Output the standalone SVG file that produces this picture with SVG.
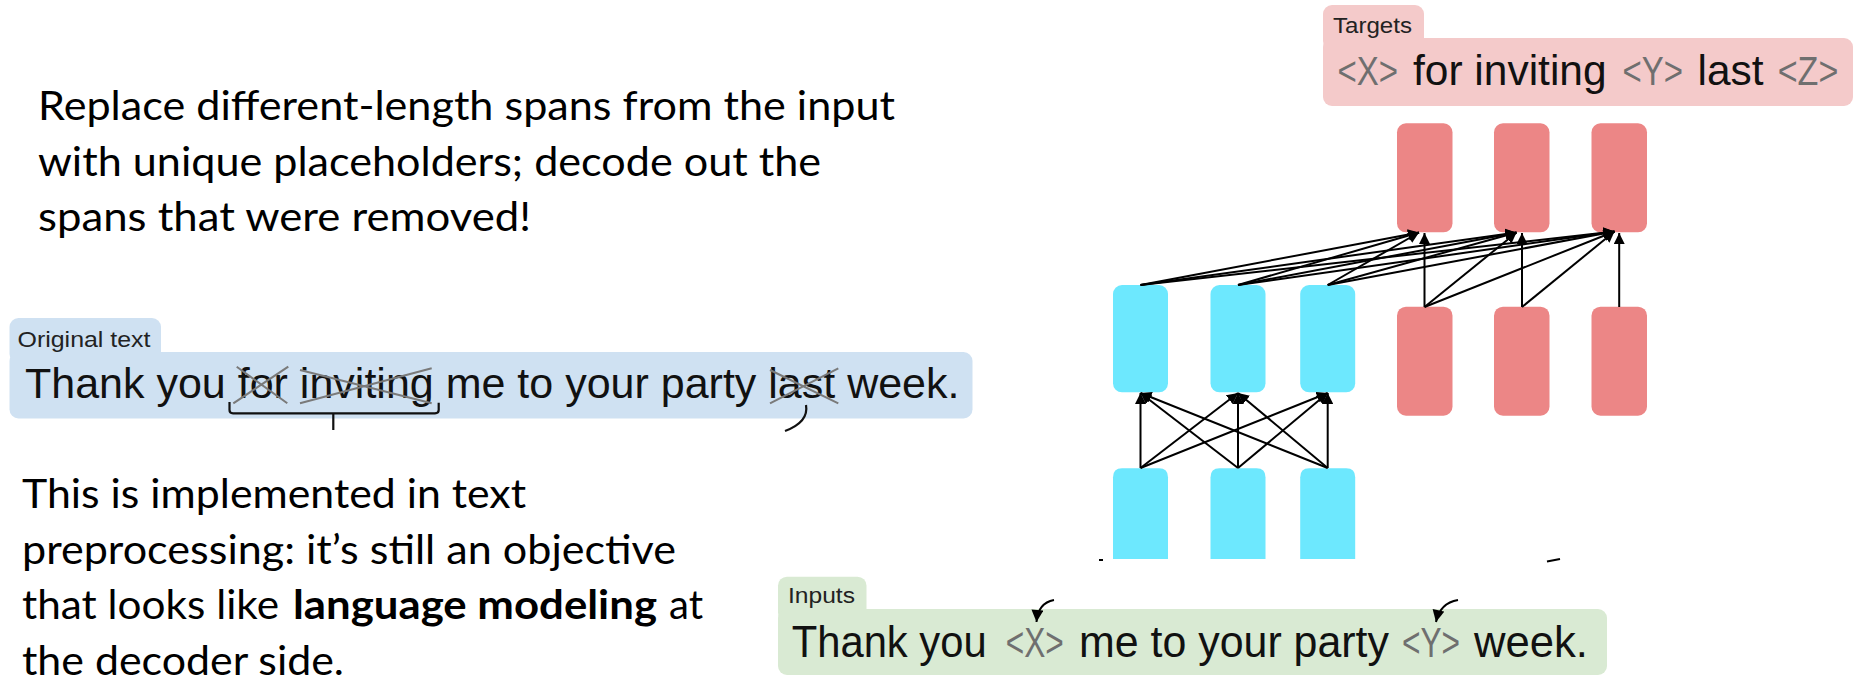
<svg xmlns="http://www.w3.org/2000/svg" width="1859" height="685" viewBox="0 0 1859 685">
<style>
.body{font-family:Lato,"Open Sans",sans-serif;font-size:40px;fill:#000}
.b{font-weight:bold}
.sent{font-family:"Liberation Sans",Arial,sans-serif;fill:#111}
.ph{font-family:"Liberation Sans",Arial,sans-serif;fill:#6f6f6f}
.tab{font-family:"Liberation Sans",Arial,sans-serif;font-size:22px;fill:#222}
.red{fill:#ec8686}
.cyan{fill:#6de8fe}
.conn line,.conn path{stroke:#000;stroke-width:2;fill:none}
.x{stroke:#7a7a7a;stroke-width:2;fill:none}
.brk{stroke:#111;stroke-width:2.2;fill:none}
</style>
<defs>
<marker id="ah" viewBox="0 0 10 10" refX="10" refY="5" markerWidth="11" markerHeight="11" markerUnits="userSpaceOnUse" orient="auto">
<path d="M0,0 L10,5 L0,10 z" fill="#000"/>
</marker>
<marker id="ah2" viewBox="0 0 10 10" refX="10" refY="5" markerWidth="13" markerHeight="12" markerUnits="userSpaceOnUse" orient="auto">
<path d="M0,0 L10,5 L0,10 z" fill="#000"/>
</marker>
</defs>
<rect width="1859" height="685" fill="#fff"/>

<g id="text-intro" class="body">
<text x="38" y="120" textLength="857" lengthAdjust="spacingAndGlyphs">Replace different-length spans from the input</text>
<text x="38" y="175.7" textLength="783" lengthAdjust="spacingAndGlyphs">with unique placeholders; decode out the</text>
<text x="38" y="231.4" textLength="493" lengthAdjust="spacingAndGlyphs">spans that were removed!</text>
</g>

<g id="text-note" class="body">
<text x="22" y="508" textLength="504" lengthAdjust="spacingAndGlyphs">This is implemented in text</text>
<text x="22" y="563.7" textLength="654" lengthAdjust="spacingAndGlyphs">preprocessing: it’s still an objective</text>
<text x="22" y="619.4" textLength="257" lengthAdjust="spacingAndGlyphs">that looks like</text>
<text class="b" x="293" y="619.4" textLength="364" lengthAdjust="spacingAndGlyphs">language modeling</text>
<text x="669" y="619.4" textLength="34" lengthAdjust="spacingAndGlyphs">at</text>
<text x="22" y="675" textLength="322" lengthAdjust="spacingAndGlyphs">the decoder side.</text>
</g>

<g id="targets">
<rect x="1323" y="5" width="101" height="45" rx="9" fill="#f4caca"/>
<rect x="1323" y="38" width="530" height="68" rx="9" fill="#f4caca"/>
<text class="tab" x="1333" y="33" textLength="79" lengthAdjust="spacingAndGlyphs">Targets</text>
<text class="ph" x="1337.4" y="85" font-size="40" textLength="60.6" lengthAdjust="spacingAndGlyphs">&lt;X&gt;</text>
<text class="sent" x="1413" y="85" font-size="42" textLength="193.6" lengthAdjust="spacingAndGlyphs">for inviting</text>
<text class="ph" x="1622.6" y="85" font-size="40" textLength="60.4" lengthAdjust="spacingAndGlyphs">&lt;Y&gt;</text>
<text class="sent" x="1697.5" y="85" font-size="42" textLength="66" lengthAdjust="spacingAndGlyphs">last</text>
<text class="ph" x="1777.7" y="85" font-size="40" textLength="60.6" lengthAdjust="spacingAndGlyphs">&lt;Z&gt;</text>
</g>

<g id="original">
<rect x="9.5" y="318" width="151.5" height="45" rx="9" fill="#cfe1f2"/>
<rect x="9.5" y="352" width="963" height="66.5" rx="9" fill="#cfe1f2"/>
<text class="tab" x="17.5" y="346.7" textLength="133" lengthAdjust="spacingAndGlyphs">Original text</text>
<text class="sent" x="25" y="398" font-size="43">Thank you for inviting me to your party last week.</text>
<path class="x" d="M236.7,366.7 L287.3,403.3 M233.3,403.3 L288.3,366.7"/>
<path class="x" d="M300,370 L431.7,403.3 M300,403.3 L431.7,368.3"/>
<path class="x" d="M770,370 L838.3,403.3 M770,403.3 L838.3,368.3"/>
<path class="brk" d="M229.5,402 L229.5,410 Q229.5,413.3 233,413.3 L435,413.3 Q438.7,413.3 438.7,410 L438.7,402.7 M333.3,413.3 L333.3,430"/>
<path class="brk" d="M806,405 Q809,422 785,431"/>
</g>

<g id="inputs">
<rect x="778" y="576.7" width="88.5" height="45" rx="9" fill="#d9ead3"/>
<rect x="778" y="609" width="829" height="66" rx="9" fill="#d9ead3"/>
<text class="tab" x="788" y="603" textLength="67" lengthAdjust="spacingAndGlyphs">Inputs</text>
<text class="sent" x="791.7" y="657" font-size="44" textLength="195" lengthAdjust="spacingAndGlyphs">Thank you</text>
<text class="ph" x="1005.8" y="657" font-size="42" textLength="58" lengthAdjust="spacingAndGlyphs">&lt;X&gt;</text>
<text class="sent" x="1079" y="657" font-size="44" textLength="310" lengthAdjust="spacingAndGlyphs">me to your party</text>
<text class="ph" x="1402" y="657" font-size="42" textLength="58" lengthAdjust="spacingAndGlyphs">&lt;Y&gt;</text>
<text class="sent" x="1474" y="657" font-size="44" textLength="114" lengthAdjust="spacingAndGlyphs">week.</text>
</g>

<g id="dec-out-1"><rect class="red" x="1397" y="123.3" width="55.5" height="109" rx="9"/></g>
<g id="dec-out-2"><rect class="red" x="1494" y="123.3" width="55.5" height="109" rx="9"/></g>
<g id="dec-out-3"><rect class="red" x="1591.5" y="123.3" width="55.5" height="109" rx="9"/></g>
<g id="dec-in-1"><rect class="red" x="1397" y="306.7" width="55.5" height="109" rx="9"/></g>
<g id="dec-in-2"><rect class="red" x="1494" y="306.7" width="55.5" height="109" rx="9"/></g>
<g id="dec-in-3"><rect class="red" x="1591.5" y="306.7" width="55.5" height="109" rx="9"/></g>
<g id="enc-top-1"><rect class="cyan" x="1113" y="285" width="55" height="107.3" rx="9"/></g>
<g id="enc-top-2"><rect class="cyan" x="1210.5" y="285" width="55" height="107.3" rx="9"/></g>
<g id="enc-top-3"><rect class="cyan" x="1300.2" y="285" width="55" height="107.3" rx="9"/></g>
<g id="enc-bot-1"><path class="cyan" d="M1113,559 L1113,477.3 Q1113,468.3 1122,468.3 L1159,468.3 Q1168,468.3 1168,477.3 L1168,559 Z"/></g>
<g id="enc-bot-2"><path class="cyan" d="M1210.5,559 L1210.5,477.3 Q1210.5,468.3 1219.5,468.3 L1256.5,468.3 Q1265.5,468.3 1265.5,477.3 L1265.5,559 Z"/></g>
<g id="enc-bot-3"><path class="cyan" d="M1300.2,559 L1300.2,477.3 Q1300.2,468.3 1309.2,468.3 L1346.2,468.3 Q1355.2,468.3 1355.2,477.3 L1355.2,559 Z"/></g>

<g id="connectors" class="conn">
<line x1="1140.5" y1="468" x2="1140.5" y2="393" marker-end="url(#ah)"/>
<line x1="1140.5" y1="468" x2="1238" y2="393" marker-end="url(#ah)"/>
<line x1="1140.5" y1="468" x2="1327.7" y2="393" marker-end="url(#ah)"/>
<line x1="1238" y1="468" x2="1140.5" y2="393" marker-end="url(#ah)"/>
<line x1="1238" y1="468" x2="1238" y2="393" marker-end="url(#ah)"/>
<line x1="1238" y1="468" x2="1327.7" y2="393" marker-end="url(#ah)"/>
<line x1="1327.7" y1="468" x2="1140.5" y2="393" marker-end="url(#ah)"/>
<line x1="1327.7" y1="468" x2="1238" y2="393" marker-end="url(#ah)"/>
<line x1="1327.7" y1="468" x2="1327.7" y2="393" marker-end="url(#ah)"/>

<line x1="1140.5" y1="285" x2="1419" y2="232.5" marker-end="url(#ah)"/>
<line x1="1140.5" y1="285" x2="1516.5" y2="232.5" marker-end="url(#ah)"/>
<line x1="1140.5" y1="285" x2="1614.5" y2="231.5" marker-end="url(#ah)"/>
<line x1="1238" y1="285" x2="1419" y2="232.5" marker-end="url(#ah)"/>
<line x1="1238" y1="285" x2="1516.5" y2="232.5" marker-end="url(#ah)"/>
<line x1="1238" y1="285" x2="1614.5" y2="231.5" marker-end="url(#ah)"/>
<line x1="1327.7" y1="285" x2="1419" y2="232.5" marker-end="url(#ah)"/>
<line x1="1327.7" y1="285" x2="1516.5" y2="232.5" marker-end="url(#ah)"/>
<line x1="1327.7" y1="285" x2="1614.5" y2="231.5" marker-end="url(#ah)"/>

<line x1="1424.5" y1="307" x2="1424.5" y2="233" marker-end="url(#ah)"/>
<line x1="1424.5" y1="307" x2="1516.5" y2="232.5" marker-end="url(#ah)"/>
<line x1="1424.5" y1="307" x2="1614.5" y2="231.5" marker-end="url(#ah)"/>
<line x1="1522" y1="307" x2="1522" y2="233" marker-end="url(#ah)"/>
<line x1="1522" y1="307" x2="1614.5" y2="231.5" marker-end="url(#ah)"/>
<line x1="1619.2" y1="307" x2="1619.2" y2="233" marker-end="url(#ah)"/>

<path d="M1054,600 Q1038,603 1036.5,622" marker-end="url(#ah2)"/>
<path d="M1458,600 Q1440,603 1436,622" marker-end="url(#ah2)"/>
<path d="M1099,560 L1103,560"/>
<path d="M1547,561.5 L1560,559"/>
</g>
</svg>
